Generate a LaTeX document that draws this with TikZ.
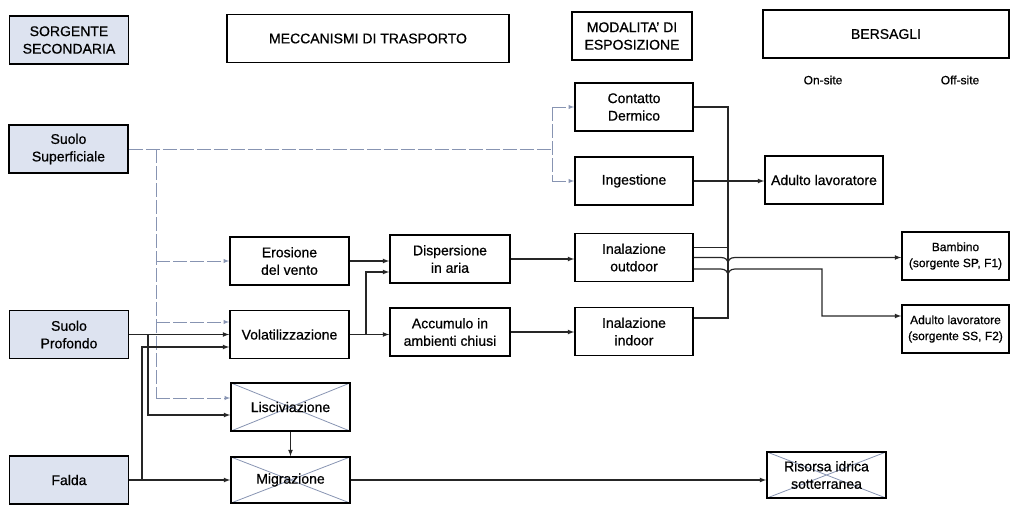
\documentclass[tikz,border=0pt]{standalone}
\usepackage{fontspec}
\setmainfont{Liberation Sans}[UprightFeatures={FakeBold=0.7}]
\definecolor{srcfill}{RGB}{221,227,240}
\definecolor{faintline}{RGB}{135,148,178}

\begin{document}
\begin{tikzpicture}[x=1pt,y=-1pt,>=latex,
  box/.style={draw,line width=1.7pt,minimum width=119pt,minimum height=48pt,inner sep=1pt,align=center,font=\fontsize{14}{17.5}\selectfont},
  src/.style={box,fill=srcfill},
  crossed/.style={box,path picture={\draw[line width=0.8pt,faintline]
      (path picture bounding box.north west)--(path picture bounding box.south east)
      (path picture bounding box.south west)--(path picture bounding box.north east);}},
  conn/.style={line width=1.2pt,black!85},
  faint/.style={line width=0.9pt,faintline,dash pattern=on 14pt off 3pt}]
  \useasboundingbox (0,0) rectangle (1011,504);

  \node[src] (hs) at (69,40) {SORGENTE\\SECONDARIA};
  \node[box,minimum width=282pt] (hm) at (368,38.5) {MECCANISMI DI TRASPORTO};
  \node[box,minimum width=120pt] (he) at (632,36) {MODALITA' DI\\ESPOSIZIONE};
  \node[box,minimum width=246pt] (hb) at (886,34) {BERSAGLI};
  \node[font=\fontsize{12}{14}\selectfont] (on) at (823,80) {On-site};
  \node[font=\fontsize{12}{14}\selectfont] (off) at (960,80) {Off-site};

  \node[src] (ss) at (68.5,149) {Suolo\\Superficiale};
  \node[src] (sp) at (69,334.5) {Suolo\\Profondo};
  \node[src] (fa) at (69,480) {Falda};

  \node[box] (ero) at (289.5,261) {Erosione\\del vento};
  \node[box] (vol) at (289.5,334.5) {Volatilizzazione};
  \node[crossed] (lis) at (290.5,407) {Lisciviazione};
  \node[crossed,minimum height=46pt] (mig) at (290.5,480) {Migrazione};

  \node[box,minimum width=120pt] (disp) at (450,259) {Dispersione\\in aria};
  \node[box,minimum width=120pt] (acc) at (450,332) {Accumulo in\\ambienti chiusi};

  \node[box,minimum width=118pt] (cd) at (634,107) {Contatto\\Dermico};
  \node[box,minimum width=118pt] (ing) at (634,181) {Ingestione};
  \node[box,minimum width=118pt] (io) at (634,257.5) {Inalazione\\outdoor};
  \node[box,minimum width=118pt] (ii) at (634,331.5) {Inalazione\\indoor};

  \node[box,minimum width=118pt] (al) at (824,180) {Adulto lavoratore};
  \node[box,minimum width=107pt,font=\fontsize{12}{16}\selectfont] (bam) at (955.5,256) {Bambino\\(sorgente SP, F1)};
  \node[box,minimum width=107pt,font=\fontsize{12}{16}\selectfont] (alss) at (955.5,329) {Adulto lavoratore\\(sorgente SS, F2)};
  \node[crossed,minimum height=46pt] (ris) at (826.5,475) {Risorsa idrica\\sotterranea};

  \coordinate (bs) at (552,149);
  \coordinate (vs) at (156,149);
  \coordinate (ps) at (148,334.5);
  \coordinate (pf) at (142,480);
  \coordinate (pv) at (366,334.5);
  \coordinate (bt) at (728,107);
  \coordinate (bb) at (728,318);
  \coordinate (j1) at (728,264);
  \coordinate (k1) at (735,257.5);
  \coordinate (j2) at (728,276);
  \coordinate (k2) at (735,269);

  \draw[faint] (ss.east) -- (bs);
  \draw[faint] (bs |- cd.west) -- (bs |- ing.west);
  \draw[faint,->] (bs |- cd.west) -- (cd.west);
  \draw[faint,->] (bs |- ing.west) -- (ing.west);
  \draw[faint] (vs) -- (vs |- 0,398);
  \draw[faint,->] (vs |- ero.west) -- (ero.west);
  \draw[faint,->] (vs |- 0,322) -- ([yshift=12.5pt]vol.west);
  \draw[faint,->] (vs |- 0,398) -- ([yshift=9pt]lis.west);

  \draw[conn,->] (sp.east) -- (vol.west);
  \draw[conn,->] (ps) |- ([yshift=-8pt]lis.west);
  \draw[conn,->] (fa.east) -- (mig.west);
  \draw[conn,->] (pf) |- ([yshift=-12.5pt]vol.west);
  \draw[conn,->] (lis.south) -- (mig.north);
  \draw[conn,->] (mig.east) -- (mig.east -| ris.west);

  \draw[conn,->] (ero.east) -- (ero.east -| disp.west);
  \draw[conn,->] (vol.east) -- (vol.east -| acc.west);
  \draw[conn,->] (pv) |- ([yshift=-13pt]disp.west);
  \draw[conn,->] (disp.east) -- (disp.east -| io.west);
  \draw[conn,->] (acc.east) -- (acc.east -| ii.west);

  \draw[conn] (cd.east) -- (bt) -- (bb) -- (bb -| ii.east);
  \draw[conn,->] (ing.east) -- (ing.east -| al.west);
  \draw[conn] ([yshift=10pt]io.east) -- ([yshift=10pt]io.east -| bt);
  \draw[conn] (io.east) -- ++(27,0) .. controls +(5,0) and +(0,-4) .. (j1);
  \draw[conn,->] (j1) .. controls +(0,-4) and +(-5,0) .. (k1) -- (k1 -| bam.west);
  \draw[conn] ([yshift=-11.5pt]io.east) -- ++(27,0) .. controls +(5,0) and +(0,-4) .. (j2);
  \draw[conn,->] (j2) .. controls +(0,-4) and +(-5,0) .. (k2) -- (822,269) |- ([yshift=13pt]alss.west);
\end{tikzpicture}
\end{document}
